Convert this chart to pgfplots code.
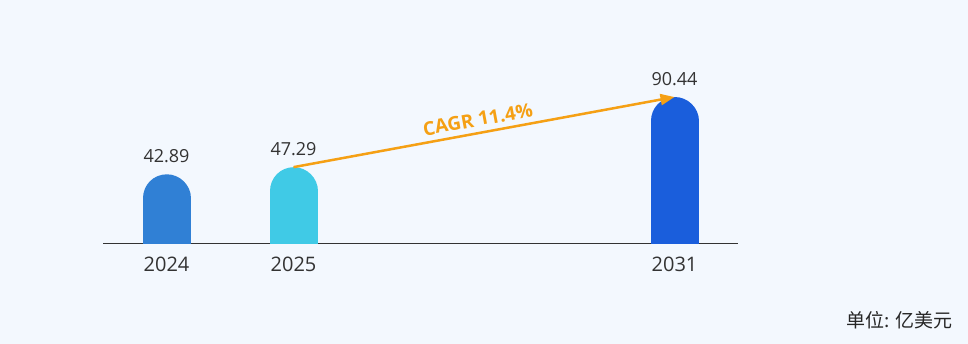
\documentclass[border=0pt]{standalone}
\usepackage{pgfplots}
\pgfplotsset{compat=1.18}
\usepackage{pgfplotstable}
\usepackage{fontspec}
\setmainfont{Open Sans}
\newfontfamily\cjk{Noto Sans CJK SC}
\usetikzlibrary{arrows.meta}
\definecolor{bg}{RGB}{243,248,254}
\definecolor{cA}{RGB}{48,128,213}
\definecolor{cB}{RGB}{64,202,230}
\definecolor{cC}{RGB}{26,94,220}
\definecolor{orng}{RGB}{245,160,20}
\definecolor{txt}{RGB}{51,51,51}
\pgfplotstableread{
x v
0 42.89
}\tA
\pgfplotstableread{
x v
1 47.29
}\tB
\pgfplotstableread{
x v
4 90.44
}\tC
\pgfplotstableread{
x v
0 42.89
1 47.29
4 90.44
}\tAll
\begin{document}
\begin{tikzpicture}
\fill[bg] (0,0) rectangle (968pt,344pt);
\begin{axis}[at={(103pt,100pt)}, anchor=south west, scale only axis,
  width=635pt, height=204pt, xmin=-0.5, xmax=4.5, ymin=0, ymax=125.54,
  axis x line=bottom, axis y line=none,
  axis line style={-, draw=txt, line width=1pt},
  xtick={0,1,4}, xticklabels={2024,2025,2031}, major tick length=0pt, ytick=\empty,
  xticklabel style={anchor=base, yshift=-28pt, font=\fontsize{20}{24}\selectfont, text=txt},
  /pgf/number format/assume math mode=true]
\addplot[ycomb, line width=48pt, line cap=round, draw=cA] table[x=x, y expr=\thisrow{v}-14.77]{\tA};
\addplot[ycomb, line width=48pt, line cap=round, draw=cB] table[x=x, y expr=\thisrow{v}-14.77]{\tB};
\addplot[ycomb, line width=48pt, line cap=round, draw=cC] table[x=x, y expr=\thisrow{v}-14.77]{\tC};
\addplot[draw=none, mark=none, nodes near coords, point meta=y,
  nodes near coords style={anchor=base, yshift=11.5pt, font=\fontsize{18}{22}\selectfont, text=txt,
  /pgf/number format/.cd, fixed, fixed zerofill, precision=2}] table[x=x, y=v]{\tAll};
\addplot[orng, line width=2.5pt, -{Triangle[length=14pt,width=11pt]}] coordinates {(1,47.29) (4,90.44)}
  node[pos=0.49, sloped, above=2pt, font=\bfseries\fontsize{19}{22}\selectfont, text=orng]{CAGR 11.4\%};
\end{axis}
\node[anchor=east, font=\cjk\fontsize{19}{22}\selectfont, text=black!85, inner sep=0pt] at (953pt,24pt) {单位: 亿美元};
\end{tikzpicture}
\end{document}
